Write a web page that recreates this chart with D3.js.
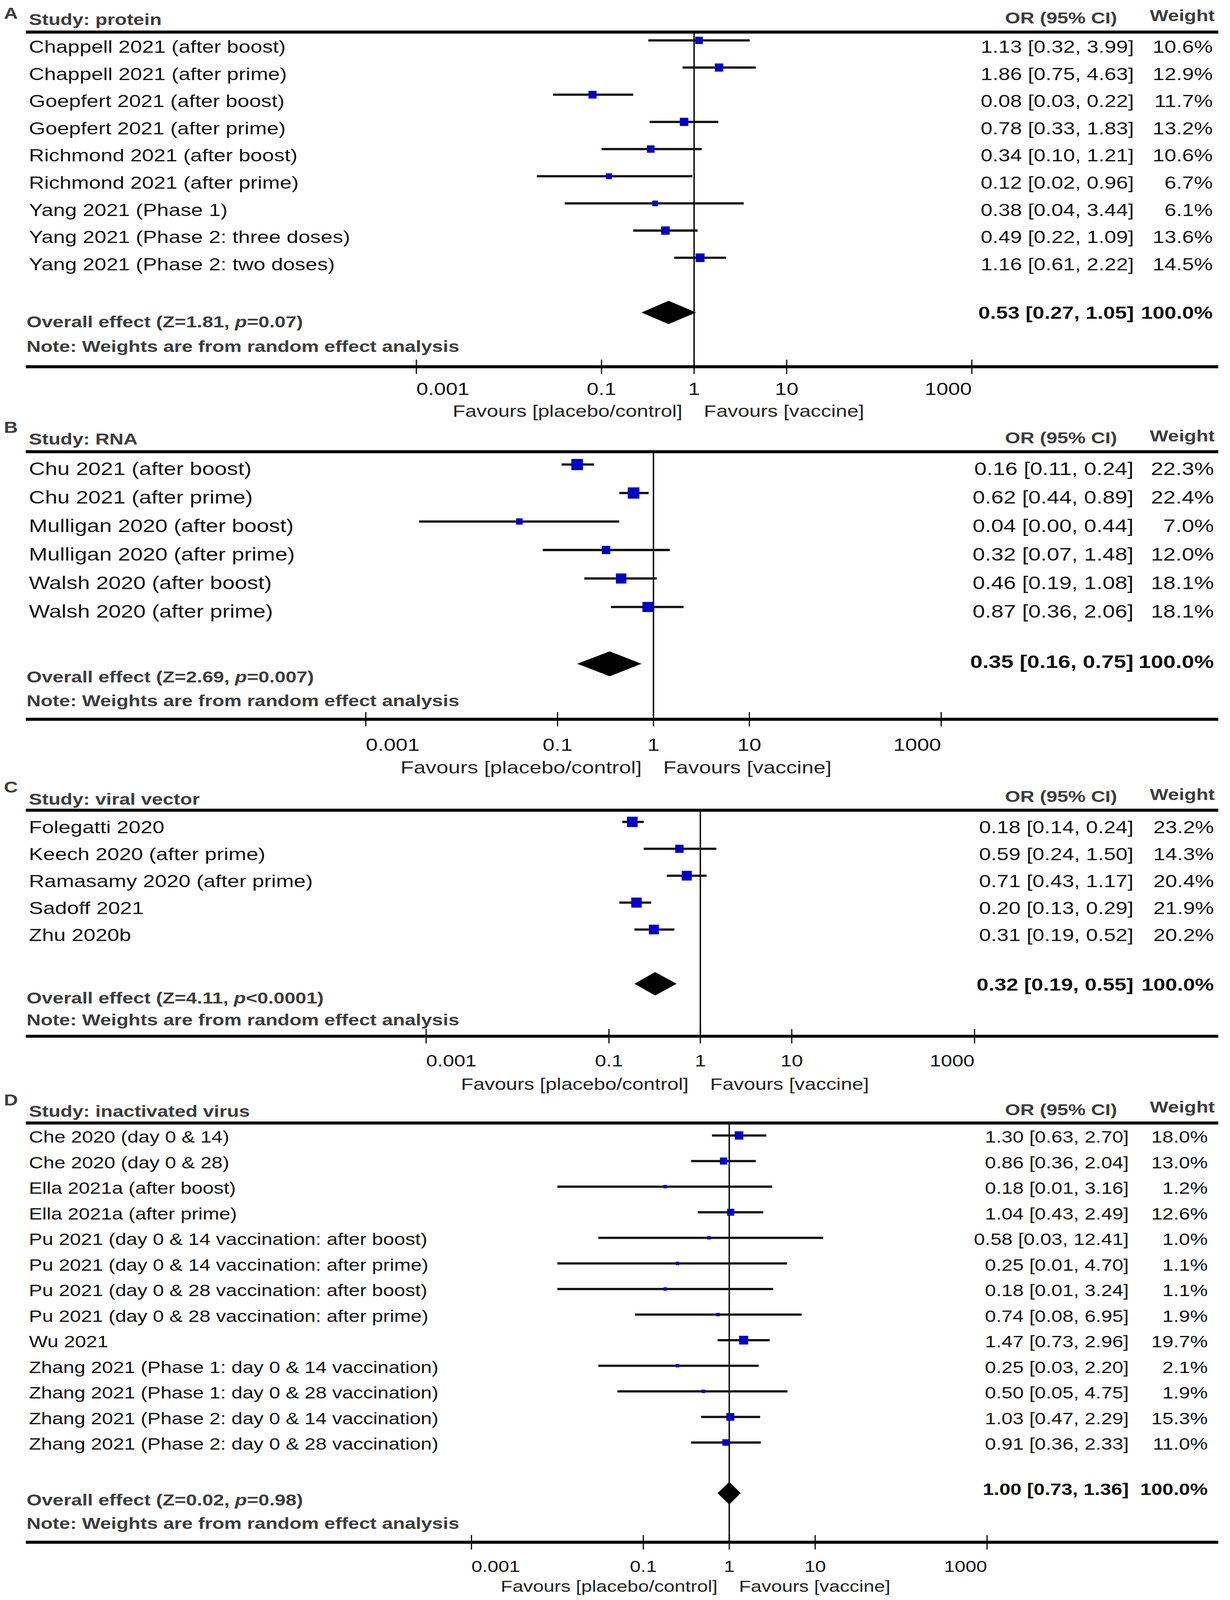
<!DOCTYPE html>
<html><head><meta charset="utf-8">
<script src="https://cdn.jsdelivr.net/npm/d3@7"></script>
<style>html,body{margin:0;padding:0;background:#fff;overflow:hidden}
#chart{display:block;width:100vw;height:100vh}</style>
</head><body><svg id="chart"></svg>
<script>
// ---------------- DATA ----------------
// Panel A: protein
const studiesA = ["Chappell 2021 (after boost)","Chappell 2021 (after prime)","Goepfert 2021 (after boost)","Goepfert 2021 (after prime)","Richmond 2021 (after boost)","Richmond 2021 (after prime)","Yang 2021 (Phase 1)","Yang 2021 (Phase 2: three doses)","Yang 2021 (Phase 2: two doses)"];
const orA = [1.13,1.86,0.08,0.78,0.34,0.12,0.38,0.49,1.16];
const loA = [0.32,0.75,0.03,0.33,0.10,0.02,0.04,0.22,0.61];
const hiA = [3.99,4.63,0.22,1.83,1.21,0.96,3.44,1.09,2.22];
const wA  = [10.6,12.9,11.7,13.2,10.6,6.7,6.1,13.6,14.5];
const overallA = [0.53,0.27,1.05]; const zA = "1.81"; const pA = "=0.07";

// Panel B: RNA
const studiesB = ["Chu 2021 (after boost)","Chu 2021 (after prime)","Mulligan 2020 (after boost)","Mulligan 2020 (after prime)","Walsh 2020 (after boost)","Walsh 2020 (after prime)"];
const orB = [0.16,0.62,0.04,0.32,0.46,0.87];
const loB = [0.11,0.44,0.0036,0.07,0.19,0.36];
const hiB = [0.24,0.89,0.44,1.48,1.08,2.06];
const wB  = [22.3,22.4,7.0,12.0,18.1,18.1];
const overallB = [0.35,0.16,0.75]; const zB = "2.69"; const pB = "=0.007";

// Panel C: viral vector
const studiesC = ["Folegatti 2020","Keech 2020 (after prime)","Ramasamy 2020 (after prime)","Sadoff 2021","Zhu 2020b"];
const orC = [0.18,0.59,0.71,0.20,0.31];
const loC = [0.14,0.24,0.43,0.13,0.19];
const hiC = [0.24,1.50,1.17,0.29,0.52];
const wC  = [23.2,14.3,20.4,21.9,20.2];
const overallC = [0.32,0.19,0.55]; const zC = "4.11"; const pC = "<0.0001";

// Panel D: inactivated virus
const studiesD = ["Che 2020 (day 0 & 14)","Che 2020 (day 0 & 28)","Ella 2021a (after boost)","Ella 2021a (after prime)","Pu 2021 (day 0 & 14 vaccination: after boost)","Pu 2021 (day 0 & 14 vaccination: after prime)","Pu 2021 (day 0 & 28 vaccination: after boost)","Pu 2021 (day 0 & 28 vaccination: after prime)","Wu 2021","Zhang 2021 (Phase 1: day 0 & 14 vaccination)","Zhang 2021 (Phase 1: day 0 & 28 vaccination)","Zhang 2021 (Phase 2: day 0 & 14 vaccination)","Zhang 2021 (Phase 2: day 0 & 28 vaccination)"];
const orD = [1.30,0.86,0.18,1.04,0.58,0.25,0.18,0.74,1.47,0.25,0.50,1.03,0.91];
const loD = [0.63,0.36,0.01,0.43,0.03,0.01,0.01,0.08,0.73,0.03,0.05,0.47,0.36];
const hiD = [2.70,2.04,3.16,2.49,12.41,4.70,3.24,6.95,2.96,2.20,4.75,2.29,2.33];
const wD  = [18.0,13.0,1.2,12.6,1.0,1.1,1.1,1.9,19.7,2.1,1.9,15.3,11.0];
const overallD = [1.00,0.73,1.36]; const zD = "0.02"; const pD = "=0.98";

const tickValues = [0.001,0.1,1,10,1000];
const tickLabels = ["0.001","0.1","1","10","1000"];
const panelLetters = ["A","B","C","D"];
const panelHeads = ["Study: protein","Study: RNA","Study: viral vector","Study: inactivated virus"];
const leftFavour = "Favours [placebo/control]";
const rightFavour = "Favours [vaccine]";
const noteText = "Note: Weights are from random effect analysis";

// ---------------- LAYOUT ----------------
const W = 3149, H = 4240;
const FONT = "'Liberation Sans', Arial, Helvetica, sans-serif";
const SX = 1.18;           // horizontal stretch of the reference type
const GRAY = "#3d3d3d", INK = "#111", BLUE = "#0000c4";
const X0 = 66, X1 = 3119;  // horizontal rule extents

const panels = [
  {data:[studiesA,orA,loA,hiA,wA,overallA,zA,pA], labelY:50, studyY:66, orHeadY:62, wHeadY:56, top:85, row0:107, step:72, dy:33, rowFont:46, center:1777, dec:237, diaY:828, diaH:31, sumY:845, overallY:867, noteY:933, axisY:972, tickY:1047, tickFont:46, favY:1105, favFont:44.4, orRight:2903, wRight:3105, k:6.0},
  {data:[studiesB,orB,loB,hiB,wB,overallB,zB,pB], labelY:1147, studyY:1178, orHeadY:1175, wHeadY:1170, top:1197, row0:1231, step:75.5, dy:28, rowFont:48.3, center:1673, dec:245.5, diaY:1759, diaH:33, sumY:1770, overallY:1808, noteY:1872, axisY:1906, tickY:1990, tickFont:46.7, favY:2050, favFont:46.6, orRight:2902, wRight:3108, k:6.3},
  {data:[studiesC,orC,loC,hiC,wC,overallC,zC,pC], labelY:2100, studyY:2132, orHeadY:2125, wHeadY:2120, top:2147, row0:2178, step:71.3, dy:30, rowFont:46.4, center:1793, dec:234, diaY:2607, diaH:31, sumY:2625, overallY:2659, noteY:2717, axisY:2746, tickY:2826, tickFont:43.7, favY:2888, favFont:44, orRight:2902, wRight:3108, k:5.7},
  {data:[studiesD,orD,loD,hiD,wD,overallD,zD,pD], labelY:2930, studyY:2960, orHeadY:2955, wHeadY:2948, top:2976, row0:3009, step:67.8, dy:19, rowFont:43.2, center:1867, dec:220, diaY:3957, diaH:30, sumY:3962, overallY:3990, noteY:4052, axisY:4087, tickY:4165, tickFont:42, favY:4218, favFont:41.9, orRight:2890, wRight:3092, k:5.2}
];
const BOLD = 42.5;

// Fill the whole viewport so the layout keeps the reference's proportions
const svg = d3.select("#chart")
  .attr("viewBox", `0 0 ${W} ${H}`)
  .attr("preserveAspectRatio", "none");
svg.append("rect").attr("width", W).attr("height", H).attr("fill", "#fff");

function T(g, x, y, str, size, o = {}) {
  const t = g.append("text")
    .attr("transform", `translate(${x},${y}) scale(${SX},1)`)
    .attr("font-family", FONT).attr("font-size", size)
    .attr("font-weight", o.bold ? "bold" : "normal")
    .attr("fill", o.fill || INK)
    .attr("text-anchor", o.anchor || "start");
  if (Array.isArray(str)) {
    str.forEach(p => {
      if (typeof p === "string") t.append("tspan").text(p);
      else t.append("tspan").attr("font-style", "italic").text(p.i);
    });
  } else t.text(str);
  return t;
}
const f2 = v => v.toFixed(2);
const ciText = (e, l, h) => `${f2(e)} [${f2(l)}, ${f2(h)}]`;

panels.forEach((P, pi) => {
  const [names, est, lo, hi, wt, ov, z, p] = P.data;
  const g = svg.append("g");
  const x = d3.scaleLog().domain([0.001, 1000]).range([P.center - 3 * P.dec, P.center + 3 * P.dec]);
  const y = d3.scaleLinear().domain([0, 1]).range([P.row0, P.row0 + P.step]);

  // headers
  T(g, 10, P.labelY, panelLetters[pi], 42, {bold: true, fill: GRAY});
  T(g, 74, P.studyY, panelHeads[pi], BOLD, {bold: true, fill: GRAY});
  T(g, 2860, P.orHeadY, "OR (95% CI)", BOLD, {bold: true, fill: GRAY, anchor: "end"});
  T(g, 3110, P.wHeadY, "Weight", BOLD, {bold: true, fill: GRAY, anchor: "end"});

  // rules
  g.append("line").attr("x1", X0).attr("x2", X1).attr("y1", P.top).attr("y2", P.top)
    .attr("stroke", "#000").attr("stroke-width", 8);
  g.append("line").attr("x1", X0).attr("x2", X1).attr("y1", P.axisY).attr("y2", P.axisY)
    .attr("stroke", "#000").attr("stroke-width", 8);
  // line of no effect
  g.append("line").attr("x1", x(1)).attr("x2", x(1)).attr("y1", P.top).attr("y2", P.axisY)
    .attr("stroke", "#000").attr("stroke-width", 3.5);

  // studies
  names.forEach((n, i) => {
    const cy = y(i);
    g.append("line").attr("x1", x(lo[i])).attr("x2", x(hi[i])).attr("y1", cy).attr("y2", cy)
      .attr("stroke", INK).attr("stroke-width", 6);
    const s = Math.max(9, P.k * Math.sqrt(wt[i]));
    g.append("rect").attr("x", x(est[i]) - s / 2).attr("y", cy - s / 2)
      .attr("width", s).attr("height", s).attr("fill", BLUE);
    T(g, 74, cy + P.dy, n, P.rowFont);
    T(g, P.orRight, cy + P.dy, ciText(est[i], lo[i], hi[i]), P.rowFont, {anchor: "end"});
    T(g, P.wRight, cy + P.dy, wt[i].toFixed(1) + "%", P.rowFont, {anchor: "end"});
  });

  // overall diamond
  const [oe, ol, oh] = ov;
  const pts = [[x(ol), P.diaY], [x(oe), P.diaY - P.diaH], [x(oh), P.diaY], [x(oe), P.diaY + P.diaH]];
  g.append("polygon").attr("points", pts.map(q => q.join(",")).join(" ")).attr("fill", "#000");
  T(g, P.orRight, P.sumY, ciText(oe, ol, oh), P.rowFont, {bold: true, anchor: "end"});
  T(g, P.wRight, P.sumY, "100.0%", P.rowFont, {bold: true, anchor: "end"});
  T(g, 68, P.overallY, [`Overall effect (Z=${z}, `, {i: "p"}, `${p})`], BOLD, {bold: true, fill: GRAY});
  T(g, 68, P.noteY, noteText, BOLD, {bold: true, fill: GRAY});

  // axis ticks
  tickValues.forEach((v, i) => {
    g.append("line").attr("x1", x(v)).attr("x2", x(v)).attr("y1", P.axisY - 19).attr("y2", P.axisY + 19)
      .attr("stroke", "#000").attr("stroke-width", 3);
    const anchor = i === 0 ? "start" : (i === tickValues.length - 1 ? "end" : "middle");
    T(g, x(v), P.tickY, tickLabels[i], P.tickFont, {anchor});
  });
  T(g, x(1) - 30, P.favY, leftFavour, P.favFont, {anchor: "end", fill: "#222"});
  T(g, x(1) + 25, P.favY, rightFavour, P.favFont, {fill: "#222"});
});
</script>
</body></html>
